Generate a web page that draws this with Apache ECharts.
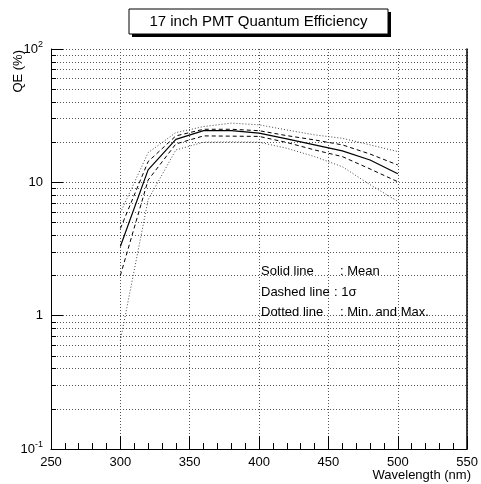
<!DOCTYPE html>
<html><head><meta charset="utf-8">
<script src="https://cdn.jsdelivr.net/npm/echarts@6/dist/echarts.min.js"></script>
<style>html,body{margin:0;padding:0;background:#fff}#c{width:481px;height:484px}</style>
</head><body><div id="c"></div><script>
// Data
const wavelengths = [300, 320, 340, 360, 380, 400, 420, 440, 460, 480, 500];
const meanQE     = [3.3, 12.4, 21.0, 24.4, 24.4, 23.4, 21.2, 19.1, 17.2, 14.7, 11.6];
const plusSigma  = [4.5, 14.3, 22.3, 25.0, 25.0, 24.4, 22.4, 20.8, 19.1, 16.3, 13.5];
const minusSigma = [2.0, 10.4, 19.4, 22.3, 22.2, 22.1, 19.9, 17.5, 15.6, 12.6, 10.1];
const maxQE      = [5.9, 16.7, 23.6, 26.2, 27.8, 27.0, 24.7, 22.7, 21.4, 19.1, 17.0];
const minQE      = [0.65, 7.4, 17.5, 20.0, 20.1, 20.0, 18.0, 15.6, 13.1, 9.6, 7.2];
const xTicks = [250, 300, 350, 400, 450, 500, 550];
const titleText = '17 inch PMT Quantum Efficiency';
const legendLines = [['Solid line', ': Mean'], ['Dashed line', ': 1σ'], ['Dotted line', ': Min. and Max.']];

const FONT = 'Liberation Sans, Arial, sans-serif';
const pairs = ys => wavelengths.map((w, i) => [w, ys[i]]);
const chart = echarts.init(document.getElementById('c'), null, {renderer: 'canvas'});
const gridDot = {type: [1, 2], color: '#555', width: 1};

function mkSeries(name, ys, lineStyle) {
  return {name, type: 'line', data: pairs(ys), symbol: 'none', silent: true,
          lineStyle: Object.assign({color: '#000', width: 1}, lineStyle), z: 5};
}

chart.setOption({
  animation: false,
  backgroundColor: '#fff',
  grid: {left: 51, right: 10, top: 49, bottom: 35},
  xAxis: {
    type: 'value', min: xTicks[0], max: xTicks[xTicks.length - 1], interval: 50,
    axisLine: {show: true, onZero: false, lineStyle: {color: '#000', width: 1}},
    axisTick: {show: true, inside: true, length: 13, lineStyle: {color: '#000'}},
    minorTick: {show: true, splitNumber: 5, length: 6, lineStyle: {color: '#000'}},
    splitLine: {show: true, lineStyle: gridDot},
    axisLabel: {fontSize: 13, color: '#000', margin: 7, fontFamily: FONT}
  },
  yAxis: [{
    type: 'log', logBase: 10, min: 0.1, max: 100,
    axisLine: {show: true, onZero: false, lineStyle: {color: '#000', width: 1}},
    axisTick: {show: true, inside: true, length: 12, lineStyle: {color: '#000'}},
    minorTick: {show: true, splitNumber: 9, length: 5, lineStyle: {color: '#000'}},
    splitLine: {show: true, lineStyle: gridDot},
    minorSplitLine: {show: true, lineStyle: gridDot},
    axisLabel: {
      fontSize: 13, color: '#000', margin: 8, fontFamily: FONT,
      formatter: v => {
        const e = Math.round(Math.log10(v));
        if (e === 0) return '1';
        if (e === 1) return '10';
        return '{b|10}{s|' + e + '}';
      },
      rich: {b: {fontSize: 13, fontFamily: FONT, color: '#000'},
             s: {fontSize: 9, fontFamily: FONT, color: '#000', padding: [0, 0, 9, 0]}}
    }
  }, {
    type: 'log', logBase: 10, min: 0.1, max: 100, position: 'right',
    axisLine: {show: true, onZero: false, lineStyle: {color: '#000', width: 1.5}},
    axisTick: {show: false}, axisLabel: {show: false}, splitLine: {show: false}
  }],
  series: [
    mkSeries('max', maxQE, {type: [1, 2], color: '#444'}),
    mkSeries('min', minQE, {type: [1, 2], color: '#444'}),
    mkSeries('plus', plusSigma, {type: [4, 3]}),
    mkSeries('minus', minusSigma, {type: [4, 3]}),
    mkSeries('mean', meanQE, {type: 'solid', width: 1.2})
  ],
  graphic: [
    {type: 'rect', shape: {x: 132, y: 12, width: 259, height: 25}, style: {fill: '#000'}, z: 10},
    {type: 'rect', shape: {x: 129, y: 9, width: 259, height: 25}, style: {fill: '#fff', stroke: '#000', lineWidth: 1}, z: 11},
    {type: 'text', x: 258.5, y: 21.5, z: 12, style: {text: titleText, font: '15px ' + FONT, fill: '#000', align: 'center', verticalAlign: 'middle'}},
    {type: 'text', x: 18, y: 50, rotation: Math.PI / 2, z: 12, style: {text: 'QE (%)', font: '13px ' + FONT, fill: '#000', align: 'right', verticalAlign: 'middle'}},
    {type: 'text', x: 471, y: 475, z: 12, style: {text: 'Wavelength (nm)', font: '13px ' + FONT, fill: '#000', align: 'right', verticalAlign: 'middle'}},
  ].concat(legendLines.flatMap((l, i) => [
    {type: 'text', x: 261, y: 271.5 + i * 20.5, z: 12, style: {text: l[0], font: '13px ' + FONT, fill: '#000', align: 'left', verticalAlign: 'middle'}},
    {type: 'text', x: i === 1 ? 334 : 340, y: 271.5 + i * 20.5, z: 12, style: {text: l[1], font: '13px ' + FONT, fill: '#000', align: 'left', verticalAlign: 'middle'}}
  ]))
});
</script></body></html>
